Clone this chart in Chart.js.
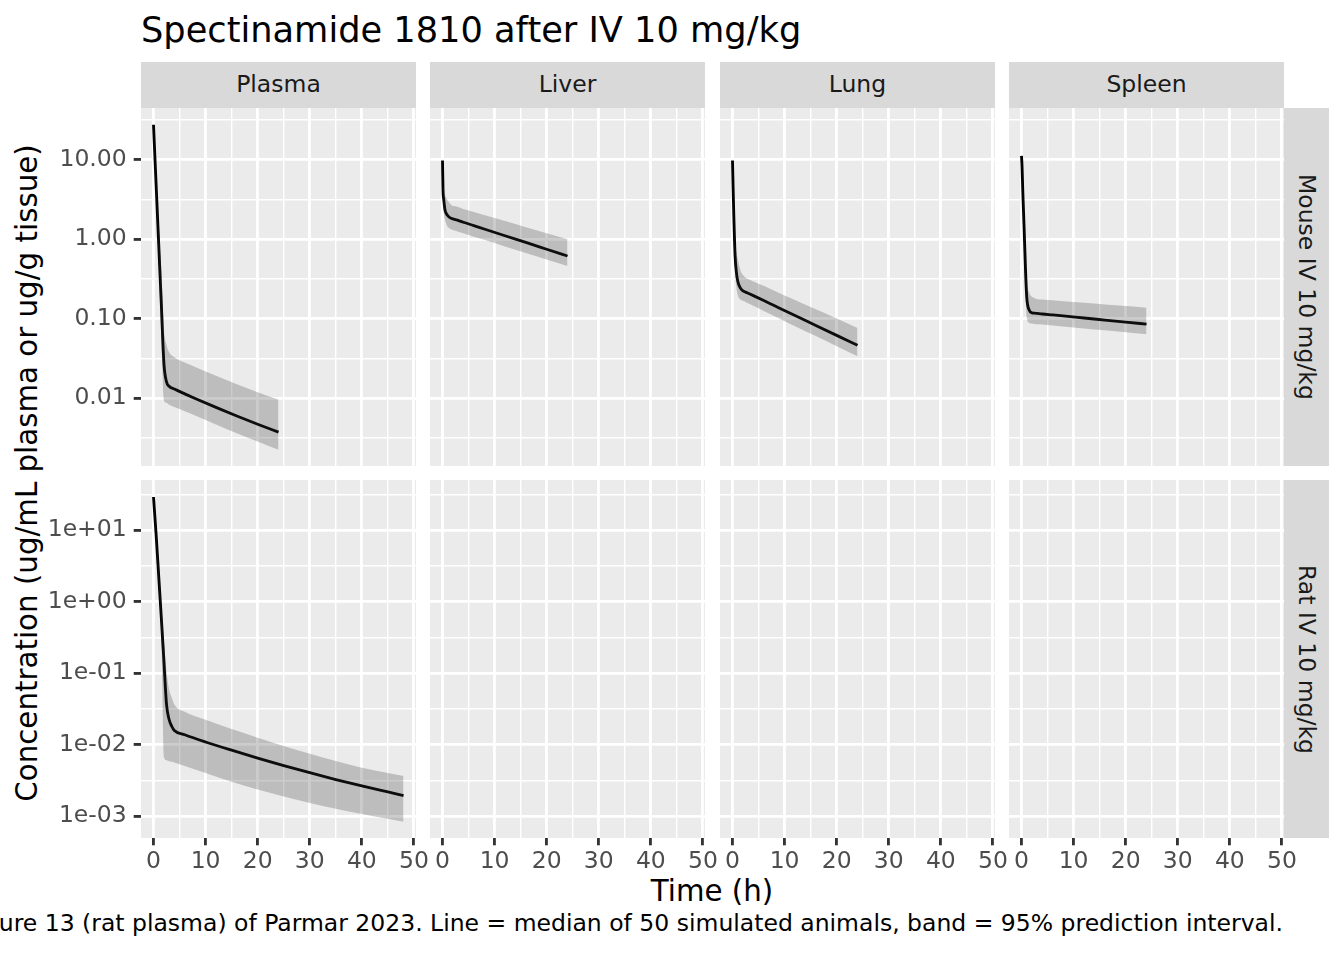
<!DOCTYPE html>
<html lang="en">
<head>
<meta charset="UTF-8">
<title>Spectinamide 1810 after IV 10 mg/kg</title>
<script src="https://cdn.jsdelivr.net/npm/chart.js"></script>
<style>
  body { margin: 0; background: #fff; font-family: "DejaVu Sans", sans-serif; }
  #page { position: relative; width: 1344px; height: 960px; overflow: hidden; }
  .txt { position: absolute; white-space: nowrap; line-height: 1; color: #000; }
  .strip { position: absolute; background: #D9D9D9; color: #1A1A1A; font-size: 23.5px; line-height: 1;
           display: flex; align-items: center; justify-content: center; white-space: nowrap; }
  .vstrip { writing-mode: vertical-rl; }
  canvas { position: absolute; }
</style>
</head>
<body>
<div id="page"></div>
<script>
// ---- data ----
const tissues = ['Plasma', 'Liver', 'Lung', 'Spleen'];
const species = ['Mouse IV 10 mg/kg', 'Rat IV 10 mg/kg'];

const mouseTime = [0, 0.1, 0.25, 0.5, 0.75, 1, 1.5, 2, 2.5, 3, 4, 6, 8, 12, 16, 20, 24];

const mousePlasmaMedian = [27.6, 19.5, 11.6, 4.9, 2.07, 0.87, 0.155, 0.0276, 0.0161, 0.0142, 0.0131, 0.0114, 0.00998, 0.00771, 0.00601, 0.00473, 0.00376];
const mousePlasmaLower  = [27.0, 18.5, 10.0, 3.8, 1.4, 0.5, 0.06, 0.0095, 0.0088, 0.0083, 0.0078, 0.0069, 0.0061, 0.0047, 0.00365, 0.00287, 0.00226];
const mousePlasmaUpper  = [28.0, 20.5, 13.0, 6.2, 2.9, 1.4, 0.42, 0.075, 0.047, 0.038, 0.033, 0.0282, 0.0248, 0.0192, 0.01503, 0.01194, 0.00962];

const mouseLiverMedian = [9.8, 4.2, 3.13, 2.30, 2.10, 1.99, 1.86, 1.81, 1.77, 1.73, 1.64, 1.49, 1.35, 1.11, 0.914, 0.751, 0.617];
const mouseLiverLower  = [9.6, 3.6, 2.2, 1.75, 1.55, 1.44, 1.35, 1.31, 1.28, 1.25, 1.19, 1.08, 0.986, 0.815, 0.673, 0.557, 0.461];
const mouseLiverUpper  = [10.0, 5.0, 4.5, 3.6, 3.3, 3.07, 2.79, 2.63, 2.60, 2.56, 2.41, 2.21, 2.02, 1.70, 1.42, 1.19, 1.00];

const mouseLungMedian = [9.8, 5.0, 2.0, 0.62, 0.385, 0.299, 0.245, 0.225, 0.217, 0.21, 0.196, 0.170, 0.147, 0.110, 0.0826, 0.062, 0.0465];
const mouseLungLower  = [9.6, 4.4, 1.4, 0.4, 0.25, 0.199, 0.175, 0.169, 0.163, 0.157, 0.146, 0.126, 0.109, 0.081, 0.0607, 0.0452, 0.0338];
const mouseLungUpper  = [10.0, 5.6, 2.7, 0.95, 0.7, 0.577, 0.41, 0.355, 0.33, 0.316, 0.296, 0.26, 0.226, 0.173, 0.132, 0.101, 0.077];

const mouseSpleenMedian = [11.2, 8.5, 4.0, 1.4, 0.45, 0.19, 0.128, 0.119, 0.118, 0.117, 0.115, 0.112, 0.109, 0.1025, 0.0966, 0.091, 0.0857];
const mouseSpleenLower  = [11.0, 7.8, 3.2, 0.9, 0.22, 0.105, 0.089, 0.0873, 0.086, 0.0855, 0.0849, 0.0826, 0.0803, 0.0759, 0.0718, 0.0679, 0.0641];
const mouseSpleenUpper  = [11.5, 9.2, 5.0, 2.0, 0.8, 0.32, 0.213, 0.189, 0.182, 0.177, 0.175, 0.171, 0.167, 0.159, 0.152, 0.145, 0.138];

const ratTime = [0, 0.5, 1, 1.5, 2, 2.5, 3, 3.5, 4, 6, 10, 15, 20, 25, 30, 35, 40, 45, 48];
const ratPlasmaMedian = [29.3, 8.8, 2.29, 0.6, 0.148, 0.0367, 0.0226, 0.0182, 0.0159, 0.01384, 0.01096, 0.00841, 0.00653, 0.00513, 0.00407, 0.00327, 0.00266, 0.00219, 0.00195];
const ratPlasmaLower  = [28.5, 7.0, 1.6, 0.35, 0.0068, 0.0061, 0.0059, 0.0058, 0.00566, 0.00507, 0.00403, 0.00305, 0.00237, 0.00189, 0.00154, 0.00128, 0.00108, 0.000923, 0.00084];
const ratPlasmaUpper  = [30.0, 11.0, 3.2, 0.9, 0.298, 0.107, 0.0596, 0.046, 0.0367, 0.029, 0.0224, 0.0166, 0.0126, 0.00966, 0.0075, 0.00592, 0.00479, 0.00403, 0.00365];

const xTicks = [0, 10, 20, 30, 40, 50];
const xMinorTicks = [5, 15, 25, 35, 45];
const mouseYTicks = [0.01, 0.1, 1, 10];
const mouseYLabels = ['0.01', '0.10', '1.00', '10.00'];
const ratYTicks = [0.001, 0.01, 0.1, 1, 10];
const ratYLabels = ['1e-03', '1e-02', '1e-01', '1e+00', '1e+01'];

// ---- layout ----
const GEO = { colLeft: [141, 430, 720, 1009], rowTop: [108, 480], w: 275, h: 358,
              padL: 140, padR: 26, padT: 22, padB: 52 };
const MAJOR_W = 2.84, MINOR_W = 1.42, TICK_LEN = 7.3;
const BAND = 'rgba(51,51,51,0.25)';
const FONT = "'DejaVu Sans', sans-serif";
Chart.defaults.font.family = FONT;

const page = document.getElementById('page');

function addText(text, css, cls) {
  const d = document.createElement('div');
  d.className = cls || 'txt';
  d.textContent = text;
  Object.assign(d.style, css);
  page.appendChild(d);
  return d;
}

addText('Spectinamide 1810 after IV 10 mg/kg', { left: '141px', top: '12px', fontSize: '35.2px' });
addText('Time (h)', { left: '712px', top: '877px', fontSize: '29.3px', transform: 'translateX(-50%)' });
addText('Concentration (ug/mL plasma or ug/g tissue)',
        { left: '28px', top: '473px', fontSize: '29.3px', transform: 'translate(-50%,-50%) rotate(-90deg)' });
addText('Figure 13 (rat plasma) of Parmar 2023. Line = median of 50 simulated animals, band = 95% prediction interval.',
        { right: (1344 - 1283) + 'px', top: '912px', fontSize: '23.5px' });

tissues.forEach((t, c) => {
  addText(t, { left: GEO.colLeft[c] + 'px', top: '62px', width: GEO.w + 'px', height: '46px' }, 'strip');
});
species.forEach((s, r) => {
  addText(s, { left: '1284px', top: GEO.rowTop[r] + 'px', width: '45px', height: GEO.h + 'px' }, 'strip vstrip');
});

// ggplot-like limits: data range expanded by 5% (log space for y)
function logLimits(arrays) {
  const all = arrays.flat();
  const lo = Math.log10(Math.min(...all)), hi = Math.log10(Math.max(...all));
  const pad = (hi - lo) * 0.05;
  return [Math.pow(10, lo - pad), Math.pow(10, hi + pad)];
}
const xLo = 0, xHi = Math.max(...mouseTime, ...ratTime);
const X_MIN = xLo - (xHi - xLo) * 0.05, X_MAX = xHi + (xHi - xLo) * 0.05;

const rows = [
  {
    ticks: mouseYTicks, labels: mouseYLabels,
    lim: logLimits([mousePlasmaMedian, mousePlasmaLower, mousePlasmaUpper, mouseLiverMedian, mouseLiverLower, mouseLiverUpper,
                    mouseLungMedian, mouseLungLower, mouseLungUpper, mouseSpleenMedian, mouseSpleenLower, mouseSpleenUpper]),
    series: [
      { time: mouseTime, median: mousePlasmaMedian, lower: mousePlasmaLower, upper: mousePlasmaUpper },
      { time: mouseTime, median: mouseLiverMedian, lower: mouseLiverLower, upper: mouseLiverUpper },
      { time: mouseTime, median: mouseLungMedian, lower: mouseLungLower, upper: mouseLungUpper },
      { time: mouseTime, median: mouseSpleenMedian, lower: mouseSpleenLower, upper: mouseSpleenUpper }
    ]
  },
  {
    ticks: ratYTicks, labels: ratYLabels,
    lim: logLimits([ratPlasmaMedian, ratPlasmaLower, ratPlasmaUpper]),
    series: [
      { time: ratTime, median: ratPlasmaMedian, lower: ratPlasmaLower, upper: ratPlasmaUpper },
      null, null, null
    ]
  }
];

function minorLogTicks(lim) {
  const out = [];
  for (let k = Math.floor(Math.log10(lim[0])) - 1; k <= Math.ceil(Math.log10(lim[1])); k++) {
    const v = Math.pow(10, k + 0.5);
    if (v > lim[0] && v < lim[1]) out.push(v);
  }
  return out;
}

const panelBg = {
  id: 'panelBg',
  beforeDraw(chart) {
    const { ctx, chartArea: a } = chart;
    ctx.save();
    ctx.fillStyle = '#EBEBEB';
    ctx.fillRect(a.left, a.top, a.width, a.height);
    ctx.restore();
  }
};

const pts = (xs, ys) => xs.map((x, i) => ({ x: x, y: ys[i] }));

function makePanel(r, c) {
  const row = rows[r], s = row.series[c];
  const isLeft = c === 0, isBottom = r === rows.length - 1;
  const W = GEO.w + GEO.padL + GEO.padR, H = GEO.h + GEO.padT + GEO.padB;
  const cv = document.createElement('canvas');
  cv.width = W; cv.height = H;
  cv.style.left = (GEO.colLeft[c] - GEO.padL) + 'px';
  cv.style.top = (GEO.rowTop[r] - GEO.padT) + 'px';
  cv.style.width = W + 'px'; cv.style.height = H + 'px';
  page.appendChild(cv);

  const yMinor = minorLogTicks(row.lim);
  const yAll = row.ticks.concat(yMinor).sort((a, b) => a - b);
  const xAll = xTicks.concat(xMinorTicks).sort((a, b) => a - b);
  const isMajorY = v => row.ticks.some(t => Math.abs(Math.log10(t) - Math.log10(v)) < 1e-6);
  const isMajorX = v => xTicks.includes(v);

  const datasets = s ? [
    { data: pts(s.time, s.upper), fill: '+1', backgroundColor: BAND, borderColor: 'transparent', borderWidth: 0,
      pointRadius: 0, cubicInterpolationMode: 'monotone' },
    { data: pts(s.time, s.lower), fill: false, borderColor: 'transparent', borderWidth: 0,
      pointRadius: 0, cubicInterpolationMode: 'monotone' },
    { data: pts(s.time, s.median), fill: false, borderColor: '#000000', borderWidth: MAJOR_W, borderJoinStyle: 'round',
      pointRadius: 0, cubicInterpolationMode: 'monotone' }
  ] : [];

  new Chart(cv, {
    type: 'line',
    data: { datasets },
    options: {
      responsive: false,
      maintainAspectRatio: false,
      animation: false,
      events: [],
      layout: { padding: { left: isLeft ? 0 : GEO.padL, right: GEO.padR, top: GEO.padT, bottom: isBottom ? 0 : GEO.padB } },
      plugins: { legend: { display: false }, tooltip: { enabled: false } },
      scales: {
        x: {
          type: 'linear', min: X_MIN, max: X_MAX, bounds: 'data',
          afterBuildTicks: sc => { sc.ticks = xAll.map(v => ({ value: v })); },
          afterFit: sc => { sc.height = isBottom ? GEO.padB : 0; },
          border: { display: false },
          grid: {
            color: '#FFFFFF',
            lineWidth: ctx => isMajorX(ctx.tick.value) ? MAJOR_W : MINOR_W,
            drawTicks: isBottom, tickLength: TICK_LEN, tickWidth: MAJOR_W,
            tickColor: ctx => isMajorX(ctx.tick.value) ? '#333333' : 'rgba(0,0,0,0)'
          },
          ticks: {
            display: isBottom, autoSkip: false, maxRotation: 0, padding: 2, color: '#4D4D4D',
            font: { size: 23.5 },
            callback: v => isMajorX(v) ? String(v) : ''
          }
        },
        y: {
          type: 'logarithmic', min: row.lim[0], max: row.lim[1], bounds: 'data',
          afterBuildTicks: sc => { sc.ticks = yAll.map(v => ({ value: v })); },
          afterFit: sc => { sc.width = isLeft ? GEO.padL : 0; },
          border: { display: false },
          grid: {
            color: '#FFFFFF',
            lineWidth: ctx => isMajorY(ctx.tick.value) ? MAJOR_W : MINOR_W,
            drawTicks: isLeft, tickLength: TICK_LEN, tickWidth: MAJOR_W,
            tickColor: ctx => isMajorY(ctx.tick.value) ? '#333333' : 'rgba(0,0,0,0)'
          },
          ticks: {
            display: isLeft, autoSkip: false, padding: 7, color: '#4D4D4D',
            font: { size: 23.5 },
            callback: v => {
              const i = row.ticks.findIndex(t => Math.abs(Math.log10(t) - Math.log10(v)) < 1e-6);
              return i >= 0 ? row.labels[i] : '';
            }
          }
        }
      }
    },
    plugins: [panelBg]
  });
}

for (let r = 0; r < rows.length; r++) {
  for (let c = 0; c < tissues.length; c++) makePanel(r, c);
}
</script>
</body>
</html>
